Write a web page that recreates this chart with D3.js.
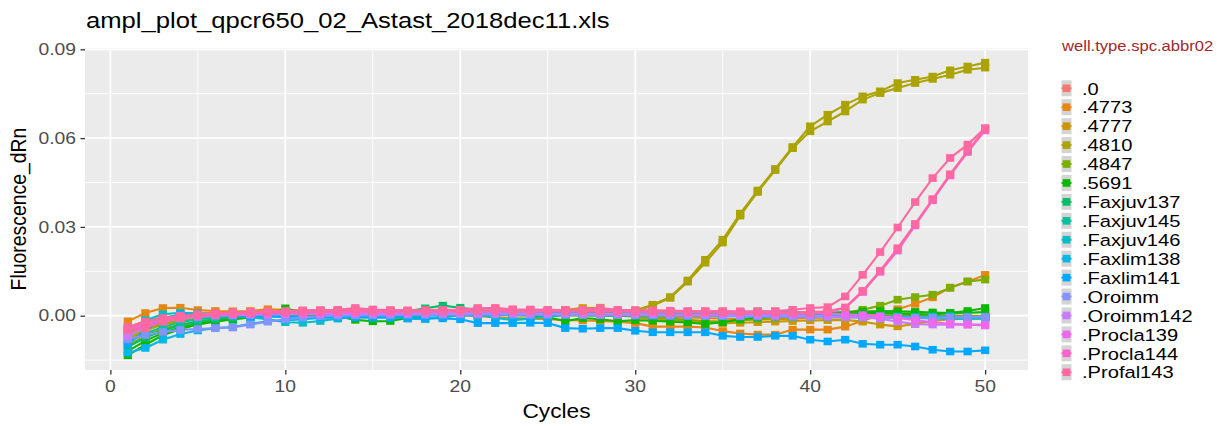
<!DOCTYPE html>
<html>
<head>
<meta charset="utf-8">
<script src="https://cdn.jsdelivr.net/npm/d3@7"></script>
<style>
  html, body { margin: 0; padding: 0; background: #ffffff; }
  svg { display: block; }
  text { font-family: "Liberation Sans", Arial, Helvetica, sans-serif; }
</style>
</head>
<body>
<svg id="chart" width="1221" height="426"></svg>
<script>
// ---- data ---------------------------------------------------------------
const cycles = [1,2,3,4,5,6,7,8,9,10,11,12,13,14,15,16,17,18,19,20,
  21,22,23,24,25,26,27,28,29,30,31,32,33,34,35,36,37,38,39,40,
  41,42,43,44,45,46,47,48,49,50];

const groups = [".0", ".4773", ".4777", ".4810", ".4847", ".5691", ".Faxjuv137", ".Faxjuv145",
  ".Faxjuv146", ".Faxlim138", ".Faxlim141", ".Oroimm", ".Oroimm142", ".Procla139", ".Procla144", ".Profal143"];

const xTicks = [0, 10, 20, 30, 40, 50];
const yTicks = [0, 0.03, 0.06, 0.09];
const yTickLabels = ["0.00", "0.03", "0.06", "0.09"];

const well_0_a = [-0.0062,-0.0035,-0.0018,-0.0008,-0.0002,0.0003,0.0006,0.0008,0.0009,0.0010,
  0.0011,0.0012,0.0013,0.0014,0.0013,0.0012,0.0011,0.0010,0.0010,0.0011,
  0.0012,0.0013,0.0012,0.0012,0.0011,0.0010,0.0009,0.0009,0.0010,0.0008,
  0.0007,0.0006,0.0006,0.0005,0.0004,0.0004,0.0003,0.0003,0.0002,0.0002,
  0.0001,0.0001,0.0000,-0.0001,-0.0001,-0.0002,-0.0003,-0.0004,-0.0005,-0.0006];
const well_0_b = [-0.0045,-0.0022,-0.0008,0.0000,0.0005,0.0008,0.0010,0.0012,0.0014,0.0015,
  0.0016,0.0018,0.0019,0.0024,0.0019,0.0018,0.0017,0.0016,0.0017,0.0018,
  0.0024,0.0025,0.0020,0.0019,0.0018,0.0017,0.0016,0.0022,0.0016,0.0015,
  0.0014,0.0013,0.0012,0.0011,0.0010,0.0010,0.0009,0.0008,0.0007,0.0006,
  0.0005,0.0004,0.0003,0.0002,0.0001,0.0000,-0.0001,-0.0002,-0.0003,-0.0004];
const well_4773_a = [-0.0019,0.0009,0.0026,0.0027,0.0019,0.0016,0.0015,0.0016,0.0022,0.0020,
  0.0017,0.0016,0.0016,0.0015,0.0013,0.0010,0.0008,0.0006,0.0003,0.0001,
  -0.0002,-0.0005,-0.0008,-0.0010,-0.0012,-0.0014,-0.0016,-0.0018,-0.0020,-0.0025,
  -0.0037,-0.0037,-0.0037,-0.0040,-0.0052,-0.0060,-0.0064,-0.0064,-0.0047,-0.0047,
  -0.0047,-0.0037,-0.0017,0.0002,0.0022,0.0040,0.0062,0.0095,0.0115,0.0138];
const well_4773_b = [-0.0040,-0.0018,-0.0006,0.0002,0.0007,0.0010,0.0012,0.0013,0.0014,0.0014,
  0.0015,0.0015,0.0014,0.0013,0.0012,0.0011,0.0010,0.0009,0.0008,0.0008,
  0.0008,0.0007,0.0007,0.0006,0.0006,0.0005,0.0004,0.0003,0.0002,0.0000,
  -0.0002,-0.0004,-0.0006,-0.0008,-0.0010,-0.0012,-0.0013,-0.0012,-0.0010,-0.0008,
  -0.0006,-0.0004,-0.0002,0.0000,0.0001,0.0002,0.0002,0.0001,0.0000,-0.0001];
const well_4777 = [-0.0055,-0.0030,-0.0015,-0.0008,-0.0005,-0.0003,-0.0001,0.0000,0.0002,0.0003,
  0.0004,0.0006,0.0008,0.0010,0.0009,0.0003,-0.0003,0.0008,-0.0004,0.0002,
  0.0005,0.0008,0.0010,0.0012,0.0015,0.0020,0.0026,0.0027,0.0012,-0.0005,
  -0.0012,-0.0016,-0.0020,-0.0022,-0.0025,-0.0024,-0.0022,-0.0020,-0.0018,-0.0016,
  -0.0015,-0.0014,-0.0020,-0.0030,-0.0036,-0.0028,-0.0018,-0.0012,-0.0010,-0.0009];
const well_4810_a = [-0.0080,-0.0050,-0.0030,-0.0018,-0.0010,-0.0005,-0.0002,0.0000,0.0002,0.0003,
  0.0004,0.0005,0.0005,0.0006,0.0006,0.0007,0.0007,0.0008,0.0008,0.0008,
  0.0008,0.0007,0.0007,0.0006,0.0006,0.0005,0.0004,0.0004,0.0006,0.0018,
  0.0037,0.0063,0.0119,0.0189,0.0257,0.0345,0.0423,0.0496,0.0570,0.0640,
  0.0679,0.0713,0.0741,0.0758,0.0786,0.0797,0.0808,0.0829,0.0842,0.0855];
const well_4810_b = [-0.0072,-0.0044,-0.0026,-0.0015,-0.0008,-0.0004,-0.0001,0.0001,0.0002,0.0003,
  0.0003,0.0004,0.0004,0.0005,0.0005,0.0006,0.0006,0.0006,0.0007,0.0007,
  0.0007,0.0006,0.0006,0.0005,0.0005,0.0004,0.0003,0.0003,0.0005,0.0015,
  0.0034,0.0060,0.0115,0.0179,0.0247,0.0338,0.0418,0.0492,0.0566,0.0623,
  0.0656,0.0690,0.0730,0.0752,0.0769,0.0786,0.0800,0.0814,0.0831,0.0838];
const well_4847 = [-0.0100,-0.0068,-0.0045,-0.0030,-0.0020,-0.0013,-0.0008,-0.0004,-0.0001,0.0001,
  0.0002,0.0003,0.0004,0.0004,0.0005,0.0005,0.0006,0.0006,0.0007,0.0007,
  0.0007,0.0007,0.0006,0.0006,0.0005,0.0004,0.0003,0.0002,0.0000,-0.0003,
  -0.0006,-0.0010,-0.0014,-0.0018,-0.0020,-0.0016,-0.0012,-0.0008,-0.0004,0.0000,
  0.0003,0.0010,0.0020,0.0034,0.0054,0.0063,0.0071,0.0094,0.0116,0.0122];
const well_5691_a = [-0.0134,-0.0098,-0.0066,-0.0045,-0.0030,-0.0020,-0.0012,-0.0006,-0.0001,0.0025,
  0.0010,0.0005,-0.0002,-0.0014,-0.0019,-0.0018,-0.0008,0.0000,0.0009,0.0006,
  0.0004,0.0003,0.0002,0.0001,-0.0005,-0.0019,-0.0008,-0.0012,-0.0019,-0.0015,
  -0.0017,-0.0020,-0.0023,-0.0028,-0.0022,-0.0012,-0.0006,-0.0002,0.0000,0.0002,
  0.0004,0.0006,0.0010,0.0009,0.0008,0.0006,0.0004,0.0010,0.0016,0.0026];
const well_5691_b = [-0.0120,-0.0085,-0.0058,-0.0040,-0.0027,-0.0018,-0.0011,-0.0006,-0.0002,0.0001,
  0.0003,0.0004,0.0005,0.0005,0.0006,0.0006,0.0006,0.0005,0.0005,0.0004,
  0.0004,0.0003,0.0003,0.0002,0.0002,0.0001,0.0001,0.0000,0.0000,0.0001,
  0.0002,0.0003,0.0004,0.0004,0.0005,0.0005,0.0006,0.0006,0.0007,0.0008,
  0.0010,0.0012,0.0014,0.0016,0.0015,0.0013,0.0011,0.0009,0.0010,0.0012];
const well_faxjuv137 = [-0.0105,-0.0075,-0.0050,-0.0032,-0.0020,-0.0012,-0.0006,-0.0002,0.0001,0.0003,
  0.0005,0.0006,0.0007,0.0008,0.0009,0.0011,0.0015,0.0025,0.0034,0.0027,
  0.0020,0.0015,0.0012,0.0010,0.0012,0.0014,0.0013,0.0011,0.0009,0.0007,
  0.0006,0.0005,0.0004,0.0004,0.0003,0.0003,0.0002,0.0002,0.0001,0.0001,
  0.0000,0.0000,-0.0001,-0.0001,-0.0002,-0.0003,-0.0004,-0.0004,-0.0005,-0.0005];
const well_faxjuv145 = [-0.0090,-0.0060,-0.0038,-0.0022,-0.0012,-0.0006,-0.0002,0.0000,0.0002,0.0003,
  0.0004,0.0005,0.0005,0.0006,0.0006,0.0007,0.0007,0.0008,0.0008,0.0008,
  0.0009,0.0009,0.0010,0.0011,0.0012,0.0012,0.0011,0.0011,0.0010,0.0010,
  0.0009,0.0008,0.0008,0.0008,0.0008,0.0011,0.0015,0.0013,0.0014,0.0010,
  0.0006,0.0003,0.0000,-0.0003,-0.0006,-0.0008,-0.0006,-0.0005,-0.0004,-0.0003];
const well_faxjuv146 = [-0.0060,-0.0015,0.0005,0.0010,0.0008,0.0005,0.0002,-0.0005,-0.0012,-0.0022,
  -0.0024,-0.0018,-0.0010,-0.0004,0.0000,0.0003,-0.0010,-0.0012,-0.0005,0.0002,
  0.0005,-0.0008,-0.0015,-0.0010,-0.0003,0.0002,0.0006,0.0005,0.0004,0.0003,
  0.0002,0.0001,0.0000,0.0001,0.0002,0.0004,0.0005,0.0006,0.0005,0.0004,
  0.0003,0.0002,0.0000,-0.0002,-0.0004,-0.0005,-0.0003,-0.0002,-0.0004,-0.0006];
const well_faxlim138 = [-0.0125,-0.0109,-0.0081,-0.0062,-0.0050,-0.0042,-0.0038,-0.0027,-0.0019,-0.0016,
  -0.0012,-0.0008,-0.0005,-0.0003,-0.0002,-0.0001,0.0000,0.0000,0.0001,0.0001,
  0.0001,0.0002,0.0002,0.0002,0.0003,0.0003,0.0003,0.0002,0.0002,0.0001,
  0.0000,0.0000,-0.0001,-0.0001,-0.0002,-0.0002,-0.0003,-0.0003,-0.0004,-0.0004,
  -0.0005,-0.0005,-0.0006,-0.0006,-0.0007,-0.0008,-0.0009,-0.0009,-0.0010,-0.0010];
const well_faxlim141 = [-0.0095,-0.0050,-0.0010,0.0005,0.0004,0.0002,0.0000,-0.0002,-0.0003,-0.0004,
  -0.0005,-0.0005,-0.0006,-0.0006,-0.0007,-0.0007,-0.0008,-0.0008,-0.0009,-0.0012,
  -0.0025,-0.0025,-0.0025,-0.0024,-0.0025,-0.0042,-0.0044,-0.0042,-0.0042,-0.0051,
  -0.0056,-0.0056,-0.0056,-0.0056,-0.0068,-0.0072,-0.0072,-0.0068,-0.0068,-0.0081,
  -0.0087,-0.0081,-0.0095,-0.0098,-0.0098,-0.0104,-0.0115,-0.0121,-0.0121,-0.0117];
const well_oroimm = [-0.0080,-0.0065,-0.0055,-0.0048,-0.0045,-0.0042,-0.0040,-0.0030,-0.0020,-0.0012,
  -0.0006,-0.0002,0.0000,0.0001,0.0002,0.0002,0.0003,0.0003,0.0003,0.0004,
  0.0004,0.0004,0.0004,0.0003,0.0003,0.0003,0.0002,0.0002,0.0002,0.0001,
  0.0001,0.0000,0.0000,-0.0001,-0.0001,-0.0002,-0.0002,-0.0003,-0.0003,-0.0004,
  -0.0004,-0.0005,-0.0005,-0.0006,-0.0006,-0.0007,-0.0007,-0.0006,-0.0005,-0.0004];
const well_oroimm142 = [-0.0070,-0.0040,-0.0020,-0.0010,-0.0004,0.0000,0.0002,0.0003,0.0004,0.0005,
  0.0005,0.0006,0.0006,0.0006,0.0007,0.0007,0.0007,0.0007,0.0008,0.0008,
  0.0008,0.0008,0.0008,0.0008,0.0007,0.0007,0.0007,0.0006,0.0006,0.0005,
  0.0005,0.0004,0.0004,0.0003,0.0003,0.0002,0.0002,0.0001,0.0001,0.0000,
  -0.0002,-0.0004,-0.0006,-0.0010,-0.0020,-0.0028,-0.0030,-0.0030,-0.0030,-0.0030];
const well_procla139 = [-0.0050,-0.0028,-0.0015,-0.0007,-0.0002,0.0002,0.0005,0.0007,0.0008,0.0009,
  0.0010,0.0011,0.0012,0.0012,0.0013,0.0013,0.0014,0.0014,0.0014,0.0015,
  0.0015,0.0015,0.0016,0.0016,0.0016,0.0017,0.0016,0.0015,0.0015,0.0014,
  0.0014,0.0013,0.0013,0.0012,0.0012,0.0011,0.0011,0.0010,0.0010,0.0010,
  0.0008,0.0005,0.0002,-0.0002,-0.0008,-0.0015,-0.0022,-0.0027,-0.0030,-0.0033];
const well_procla144 = [-0.0042,-0.0024,-0.0012,-0.0004,0.0001,0.0004,0.0006,0.0008,0.0009,0.0010,
  0.0011,0.0012,0.0012,0.0013,0.0013,0.0013,0.0014,0.0014,0.0015,0.0015,
  0.0016,0.0016,0.0016,0.0017,0.0017,0.0017,0.0016,0.0016,0.0015,0.0015,
  0.0014,0.0014,0.0013,0.0013,0.0012,0.0012,0.0011,0.0010,0.0009,0.0008,
  0.0012,0.0026,0.0080,0.0148,0.0220,0.0305,0.0390,0.0474,0.0553,0.0626];
const well_profal143_a = [-0.0047,-0.0042,-0.0020,-0.0008,0.0002,0.0008,0.0011,0.0013,0.0015,0.0016,
  0.0018,0.0019,0.0020,0.0026,0.0021,0.0019,0.0018,0.0019,0.0020,0.0020,
  0.0026,0.0026,0.0022,0.0021,0.0020,0.0019,0.0020,0.0026,0.0020,0.0019,
  0.0018,0.0017,0.0016,0.0016,0.0016,0.0015,0.0015,0.0016,0.0020,0.0026,
  0.0029,0.0065,0.0138,0.0215,0.0298,0.0384,0.0465,0.0533,0.0578,0.0634];
const well_profal143_b = [-0.0038,-0.0020,-0.0008,0.0000,0.0005,0.0008,0.0010,0.0012,0.0013,0.0014,
  0.0015,0.0016,0.0016,0.0017,0.0017,0.0017,0.0016,0.0016,0.0016,0.0017,
  0.0017,0.0018,0.0018,0.0017,0.0017,0.0016,0.0016,0.0015,0.0015,0.0014,
  0.0014,0.0013,0.0013,0.0012,0.0012,0.0011,0.0011,0.0011,0.0011,0.0012,
  0.0015,0.0028,0.0084,0.0152,0.0228,0.0310,0.0394,0.0478,0.0557,0.0632];

// one entry per well: its group label and its fluorescence readings
const wells = [
  { group: ".0", values: well_0_a },
  { group: ".0", values: well_0_b },
  { group: ".4773", values: well_4773_a },
  { group: ".4773", values: well_4773_b },
  { group: ".4777", values: well_4777 },
  { group: ".4810", values: well_4810_a },
  { group: ".4810", values: well_4810_b },
  { group: ".4847", values: well_4847 },
  { group: ".5691", values: well_5691_a },
  { group: ".5691", values: well_5691_b },
  { group: ".Faxjuv137", values: well_faxjuv137 },
  { group: ".Faxjuv145", values: well_faxjuv145 },
  { group: ".Faxjuv146", values: well_faxjuv146 },
  { group: ".Faxlim138", values: well_faxlim138 },
  { group: ".Faxlim141", values: well_faxlim141 },
  { group: ".Oroimm", values: well_oroimm },
  { group: ".Oroimm142", values: well_oroimm142 },
  { group: ".Procla139", values: well_procla139 },
  { group: ".Procla144", values: well_procla144 },
  { group: ".Profal143", values: well_profal143_a },
  { group: ".Profal143", values: well_profal143_b }
];

// ---- colour: evenly spaced hues in polar CIE-LUV (L = 65, C = 100) ------
function polarLuvToHex(h, c, l) {
  const hr = h * Math.PI / 180;
  const U = c * Math.cos(hr), V = c * Math.sin(hr);
  const un = 0.1978398, vn = 0.4683363;
  const Y = l > 8 ? Math.pow((l + 16) / 116, 3) : l / 903.3;
  const u = U / (13 * l) + un, v = V / (13 * l) + vn;
  const X = 9 * Y * u / (4 * v);
  const Z = -X / 3 - 5 * Y + 3 * Y / v;
  const lin = [
    3.240479 * X - 1.537150 * Y - 0.498535 * Z,
    -0.969256 * X + 1.875992 * Y + 0.041556 * Z,
    0.055648 * X - 0.204043 * Y + 1.057311 * Z
  ];
  const ch = lin.map(t => {
    const g = t <= 0.0031308 ? 12.92 * t : 1.055 * Math.pow(t, 1 / 2.4) - 0.055;
    return Math.round(Math.max(0, Math.min(1, g)) * 255);
  });
  return d3.rgb(ch[0], ch[1], ch[2]).formatHex();
}
const hues = groups.map((g, i) => 15 + 360 * i / groups.length);
const color = d3.scaleOrdinal().domain(groups).range(hues.map(h => polarLuvToHex(h, 100, 65)));

// ---- layout ----------------------------------------------------------------
const SX = 1.17;                       // horizontal stretch of all lettering
const panel = { left: 85, right: 1028, top: 48, bottom: 370 };
const svg = d3.select("#chart");

// scales with 5% padding on both sides of the data range
const xExt = d3.extent(cycles);
const xPad = (xExt[1] - xExt[0]) * 0.05;
const x = d3.scaleLinear().domain([xExt[0] - xPad, xExt[1] + xPad]).range([panel.left, panel.right]);
const allVals = wells.flatMap(w => w.values);
const yExt = d3.extent(allVals);
const yPad = (yExt[1] - yExt[0]) * 0.05;
const y = d3.scaleLinear().domain([yExt[0] - yPad, yExt[1] + yPad]).range([panel.bottom, panel.top]);

function addText(parent, str, px, py, opts) {
  const t = parent.append("text")
    .attr("transform", `translate(${px},${py}) scale(${SX},1)` + (opts.rotate ? ` rotate(${opts.rotate})` : ""))
    .attr("font-size", opts.size)
    .attr("fill", opts.fill || "#000")
    .attr("text-anchor", opts.anchor || "start")
    .text(str);
  if (opts.dy) t.attr("dy", opts.dy);
  return t;
}

// panel background
svg.append("rect")
  .attr("x", panel.left).attr("y", panel.top)
  .attr("width", panel.right - panel.left).attr("height", panel.bottom - panel.top)
  .attr("fill", "#EBEBEB");

// grid: minor then major
const xMinor = [5, 15, 25, 35, 45];
const yMinor = [-0.015, 0.015, 0.045, 0.075];
const grid = svg.append("g");
grid.selectAll(".vminor").data(xMinor).join("line")
  .attr("x1", d => x(d)).attr("x2", d => x(d)).attr("y1", panel.top).attr("y2", panel.bottom)
  .attr("stroke", "#fff").attr("stroke-width", 0.9);
grid.selectAll(".hminor").data(yMinor).join("line")
  .attr("y1", d => y(d)).attr("y2", d => y(d)).attr("x1", panel.left).attr("x2", panel.right)
  .attr("stroke", "#fff").attr("stroke-width", 0.9);
grid.selectAll(".vmajor").data(xTicks).join("line")
  .attr("x1", d => x(d)).attr("x2", d => x(d)).attr("y1", panel.top).attr("y2", panel.bottom)
  .attr("stroke", "#fff").attr("stroke-width", 1.7);
grid.selectAll(".hmajor").data(yTicks).join("line")
  .attr("y1", d => y(d)).attr("y2", d => y(d)).attr("x1", panel.left).attr("x2", panel.right)
  .attr("stroke", "#fff").attr("stroke-width", 1.7);

// axes (ticks only; labels drawn with the shared stretch)
const xAxis = svg.append("g").attr("transform", `translate(0,${panel.bottom})`)
  .call(d3.axisBottom(x).tickValues(xTicks).tickSize(4.5).tickFormat(""));
const yAxis = svg.append("g").attr("transform", `translate(${panel.left},0)`)
  .call(d3.axisLeft(y).tickValues(yTicks).tickSize(4.5).tickFormat(""));
[xAxis, yAxis].forEach(a => {
  a.select(".domain").remove();
  a.selectAll(".tick line").attr("stroke", "#333").attr("stroke-width", 1.3);
});
xTicks.forEach(t => addText(svg, String(t), x(t), 392, { size: 16.5, fill: "#4D4D4D", anchor: "middle" }));
yTicks.forEach((t, i) => addText(svg, yTickLabels[i], 76, y(t), { size: 16.5, fill: "#4D4D4D", anchor: "end", dy: "0.35em" }));

// axis titles and plot title
addText(svg, "Cycles", (panel.left + panel.right) / 2, 418, { size: 19.4, anchor: "middle" });
addText(svg, "Fluorescence_dRn", 26, (panel.top + panel.bottom) / 2, { size: 19.4, anchor: "middle", rotate: -90 });
addText(svg, "ampl_plot_qpcr650_02_Astast_2018dec11.xls", 86, 28, { size: 21.9 });

// lines for every well, then the square markers
const plot = svg.append("g");
const line = d3.line().x((d, i) => x(cycles[i])).y(d => y(d));
plot.selectAll("path.well").data(wells).join("path")
  .attr("class", "well")
  .attr("d", w => line(w.values))
  .attr("fill", "none")
  .attr("stroke", w => color(w.group))
  .attr("stroke-width", 2.1)
  .attr("stroke-linejoin", "round");
const MW = 8.2, MH = 7.6;
wells.forEach(w => {
  plot.append("g").selectAll("rect").data(w.values).join("rect")
    .attr("x", (d, i) => x(cycles[i]) - MW / 2)
    .attr("y", d => y(d) - MH / 2)
    .attr("width", MW).attr("height", MH)
    .attr("fill", color(w.group));
});

// legend
const legend = svg.append("g");
addText(legend, "well.type.spc.abbr02", 1062, 51, { size: 14.2, fill: "#9E2A2B" });
const rowY = i => 88.3 + i * 18.93;
groups.forEach((g, i) => {
  const cy = rowY(i);
  legend.append("rect").attr("x", 1061.5).attr("y", cy - 8).attr("width", 10).attr("height", 16).attr("fill", "#D4D4D4");
  legend.append("line").attr("x1", 1061.5).attr("x2", 1071.5).attr("y1", cy).attr("y2", cy)
    .attr("stroke", color(g)).attr("stroke-width", 2);
  legend.append("rect").attr("x", 1066.5 - 3.8).attr("y", cy - 3.8).attr("width", 7.6).attr("height", 7.6).attr("fill", color(g));
  addText(legend, g, 1082, cy, { size: 17.2, dy: "0.36em" });
});
</script>
</body>
</html>
